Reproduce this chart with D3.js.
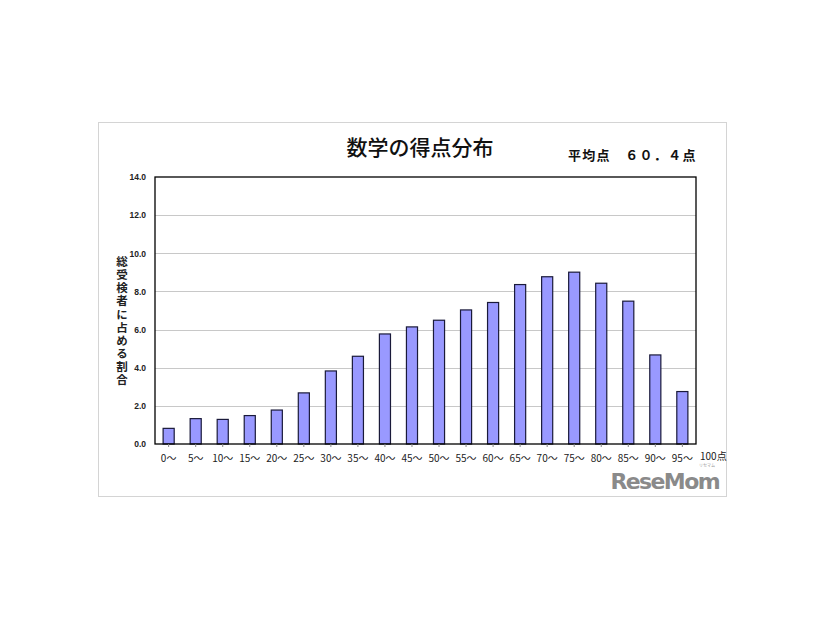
<!DOCTYPE html>
<html><head><meta charset="utf-8">
<script src="https://cdn.jsdelivr.net/npm/d3@7"></script>
<style>body{margin:0;background:#fff;} svg{display:block;}</style>
</head><body>
<script>
const categories = ["0～","5～","10～","15～","20～","25～","30～","35～","40～","45～","50～","55～","60～","65～","70～","75～","80～","85～","90～","95～"];
const values = [0.82,1.33,1.29,1.49,1.78,2.68,3.83,4.60,5.77,6.14,6.49,7.03,7.42,8.36,8.77,9.01,8.43,7.49,4.67,2.75];
const yTicks = [0,2,4,6,8,10,12,14];
const title = "数学の得点分布";
const subtitle = "平均点　６０．４点";
const yLabel = "総受検者に占める割合";
const xEndLabel = "100点";

const W = 826, H = 620;
const svg = d3.select("body").append("svg").attr("width", W).attr("height", H);
const font = "'Noto Sans CJK JP','Noto Sans',sans-serif";

// outer frame
svg.append("rect").attr("x",98.5).attr("y",122.5).attr("width",628).attr("height",374)
  .attr("fill","#fff").attr("stroke","#d4d4d4").attr("stroke-width",1);

const L = 155, R = 696, T = 177, B = 444;
const x = d3.scaleBand().domain(categories).range([L,R]).paddingInner(0.59).paddingOuter(0.3);
const y = d3.scaleLinear().domain([0,14]).range([B,T]);

// gridlines
svg.append("g").selectAll("line").data(yTicks.filter(v=>v>0&&v<14)).join("line")
  .attr("x1",L).attr("x2",R).attr("y1",d=>Math.round(y(d))+0.5).attr("y2",d=>Math.round(y(d))+0.5)
  .attr("stroke","#c8c8c8").attr("stroke-width",1);

// bars
svg.append("g").selectAll("rect").data(values).join("rect")
  .attr("x",(d,i)=>x(categories[i]))
  .attr("y",d=>y(d))
  .attr("width",x.bandwidth())
  .attr("height",d=>B-y(d))
  .attr("fill","#9999ff").attr("stroke","#1a1a3a").attr("stroke-width",1.2);

// plot border
svg.append("rect").attr("x",L).attr("y",T).attr("width",R-L).attr("height",B-T)
  .attr("fill","none").attr("stroke","#000").attr("stroke-width",1.3);

// y axis
const yAxis = d3.axisLeft(y).tickValues(yTicks).tickFormat(d3.format(".1f")).tickSize(0).tickPadding(9);
const gy = svg.append("g").attr("transform",`translate(${L},0)`).call(yAxis);
gy.select(".domain").remove();
gy.selectAll("text").attr("font-family","Arial,'Liberation Sans',sans-serif").attr("font-size",8.5).attr("font-weight","bold").attr("fill","#222");

// x axis
const xAxis = d3.axisBottom(x).tickSize(3).tickPadding(8);
const gx = svg.append("g").attr("transform",`translate(0,${B})`).call(xAxis);
gx.select(".domain").remove();
gx.selectAll("line").attr("stroke","#888");
gx.selectAll("text").attr("font-family",font).attr("font-size",10).attr("fill","#222");

svg.append("text").attr("x",R+4).attr("y",B+16).attr("font-family",font).attr("font-size",10).attr("fill","#222").text(xEndLabel);

// title
svg.append("text").attr("x",420).attr("y",155).attr("text-anchor","middle")
  .attr("font-family",font).attr("font-size",21).attr("font-weight",500).attr("fill","#111").text(title);
svg.append("text").attr("x",568).attr("y",160)
  .attr("font-family",font).attr("font-size",13).attr("letter-spacing",1.3).attr("font-weight","bold").attr("fill","#111").text(subtitle);

// y label vertical (single text, vertical writing mode)
svg.append("text").attr("x",122).attr("y",256)
  .style("writing-mode","vertical-rl").style("text-orientation","upright")
  .attr("font-family",font).attr("font-size",11.5).attr("font-weight","bold")
  .attr("letter-spacing",1.6).attr("fill","#222").text(yLabel);

// logo
svg.append("text").attr("x",719).attr("y",489).attr("text-anchor","end")
  .attr("font-family","'DejaVu Sans','Liberation Sans',sans-serif").attr("font-weight","bold").attr("font-size",22)
  .attr("fill","#8a8a8a").attr("letter-spacing",-1.6).text("ReseMom");
svg.append("text").attr("x",707).attr("y",467).attr("text-anchor","middle")
  .attr("font-family",font).attr("font-size",4).attr("fill","#999").text("リセマム");
</script>
</body></html>
